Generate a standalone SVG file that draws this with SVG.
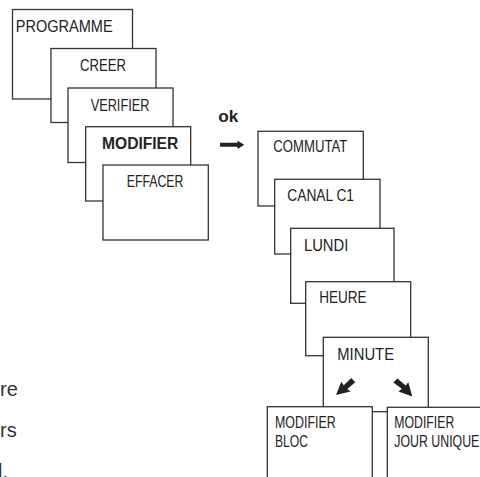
<svg xmlns="http://www.w3.org/2000/svg" width="480" height="477" viewBox="0 0 480 477">
<style>
.box{fill:#fff;stroke:#333;stroke-width:1.3}
.t{font-family:"Liberation Sans",Arial,sans-serif;font-size:16px;fill:#222}
.b{font-weight:bold}
.side{font-family:"Liberation Sans",Arial,sans-serif;font-size:20px;fill:#333}
.arr{fill:#222}
</style>
<rect width="480" height="477" fill="#fff"/>
<g id="side-text">
<text class="side" x="0" y="396">re</text>
<text class="side" x="0" y="437">rs</text>
<text class="side" x="-2" y="478">l.</text>
</g>
<g id="programme"><rect class="box" x="12.5" y="9.5" width="120" height="89.5"/><text class="t" x="15.7" y="31.7" textLength="97" lengthAdjust="spacingAndGlyphs">PROGRAMME</text></g>
<g id="creer"><rect class="box" x="51" y="48.5" width="105" height="74"/><text class="t" x="80" y="70.7" textLength="46" lengthAdjust="spacingAndGlyphs">CREER</text></g>
<g id="verifier"><rect class="box" x="68" y="88" width="105" height="74.5"/><text class="t" x="90.7" y="111" textLength="58.7" lengthAdjust="spacingAndGlyphs">VERIFIER</text></g>
<g id="modifier"><rect class="box" x="85.7" y="126.7" width="105" height="74.3"/><text class="t b" x="102" y="149.3" textLength="76.3" lengthAdjust="spacingAndGlyphs">MODIFIER</text></g>
<g id="effacer"><rect class="box" x="103" y="165" width="105.3" height="75"/><text class="t" x="126.7" y="187.3" textLength="56.7" lengthAdjust="spacingAndGlyphs">EFFACER</text></g>
<g id="commutat"><rect class="box" x="258" y="131.3" width="105.3" height="74.7"/><text class="t" x="273.3" y="152.3" textLength="74" lengthAdjust="spacingAndGlyphs">COMMUTAT</text></g>
<g id="canal"><rect class="box" x="274.7" y="179.3" width="105.3" height="74.7"/><text class="t" x="287.3" y="200.7" textLength="66.7" lengthAdjust="spacingAndGlyphs">CANAL C1</text></g>
<g id="lundi"><rect class="box" x="290.7" y="228.3" width="103.3" height="75"/><text class="t" x="304" y="250.7" textLength="44.3" lengthAdjust="spacingAndGlyphs">LUNDI</text></g>
<g id="heure"><rect class="box" x="305.7" y="281.7" width="105" height="74"/><text class="t" x="319.3" y="303.3" textLength="47.3" lengthAdjust="spacingAndGlyphs">HEURE</text></g>
<g id="minute"><rect class="box" x="323.3" y="337.3" width="105" height="74.4"/><text class="t" x="337.3" y="360" textLength="56.7" lengthAdjust="spacingAndGlyphs">MINUTE</text></g>
<g id="modifier-bloc"><rect class="box" x="267.3" y="406.7" width="105" height="80"/><text class="t" x="275" y="428" textLength="60.7" lengthAdjust="spacingAndGlyphs">MODIFIER</text><text class="t" x="275" y="447" textLength="33" lengthAdjust="spacingAndGlyphs">BLOC</text></g>
<g id="modifier-jour"><rect class="box" x="387.3" y="407.3" width="105" height="80"/><text class="t" x="394.3" y="428" textLength="60" lengthAdjust="spacingAndGlyphs">MODIFIER</text><text class="t" x="394.3" y="447" textLength="85" lengthAdjust="spacingAndGlyphs">JOUR UNIQUE</text></g>
<g id="connectors">
<text class="t b" x="218.3" y="121.7" textLength="20" lengthAdjust="spacingAndGlyphs">ok</text>
<polygon class="arr" points="220,142.7 237.5,142.7 237.5,140.7 244.3,144.8 237.5,149 237.5,146.8 220,146.8"/>
<polygon class="arr" points="336,395 350.5,391.5 347.3,388.9 355.3,382.3 351.2,378.1 343.8,385.3 341.3,381.8"/>
<polygon class="arr" points="412.3,396.5 408.3,382.2 405.8,385.4 397.4,378.5 393.3,382.6 401.8,388.8 398.5,391.6"/>
</g>
</svg>
